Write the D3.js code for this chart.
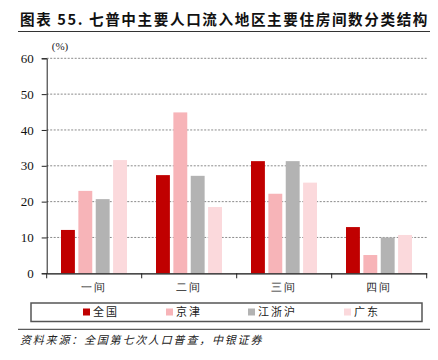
<!DOCTYPE html>
<html>
<head>
<meta charset="utf-8">
<script src="https://cdn.jsdelivr.net/npm/d3@7"></script>
<style>
  body { margin: 0; background: #fff; }
  svg { display: block; }
</style>
</head>
<body>
<div id="chart"></div>
<script>
// data
const categories = ["一间", "二间", "三间", "四间"];
const seriesNames = ["全国", "京津", "江浙沪", "广东"];
const quanguo = [12.1, 27.4, 31.3, 12.9];
const jingjin = [23.0, 44.9, 22.2, 5.1];
const jiangzhehu = [20.7, 27.2, 31.3, 10.0];
const guangdong = [31.6, 18.5, 25.3, 10.7];
const yTicks = [0, 10, 20, 30, 40, 50, 60];
const colors = ["#c00000", "#f7b4b8", "#b3b3b3", "#fbd9dc"];

const values = [quanguo, jingjin, jiangzhehu, guangdong];

const W = 438, H = 360;
const svg = d3.select("#chart").append("svg")
    .attr("width", W).attr("height", H)
    .style("font-family", "'Noto Sans CJK SC', sans-serif");

// title
svg.append("text")
    .attr("x", 20).attr("y", 25)
    .style("font-size", "14.6px").style("font-weight", "bold")
    .style("letter-spacing", "1.6px")
    .attr("fill", "#111")
    .text("图表 55. 七普中主要人口流入地区主要住房间数分类结构");
svg.append("line")
    .attr("x1", 18).attr("x2", 430).attr("y1", 31.5).attr("y2", 31.5)
    .attr("stroke", "#333").attr("stroke-width", 1.2);

const x = d3.scaleBand().domain(categories).range([46.7, 426.7]);
const xs = d3.scaleBand().domain(seriesNames).range([14.3, 80.3]).paddingInner(0.2);
const y = d3.scaleLinear().domain([0, 60]).range([273.3, 58.3]);

// gridlines
svg.append("g").selectAll("line")
    .data(yTicks.slice(1))
    .join("line")
    .attr("x1", 46.7).attr("x2", 426.7)
    .attr("y1", d => y(d)).attr("y2", d => y(d))
    .attr("stroke", "#8a8a8a").attr("stroke-width", 1)
    .attr("stroke-dasharray", "2,1.5");

// bars
const groups = svg.append("g").selectAll("g")
    .data(categories)
    .join("g")
    .attr("transform", d => `translate(${x(d)},0)`);

groups.selectAll("rect")
    .data((c, i) => seriesNames.map((s, j) => ({ s: s, v: values[j][i], j: j })))
    .join("rect")
    .attr("x", d => xs(d.s))
    .attr("width", xs.bandwidth())
    .attr("y", d => y(d.v))
    .attr("height", d => y(0) - y(d.v))
    .attr("fill", d => colors[d.j]);

// y axis
const yAxis = svg.append("g")
    .attr("transform", "translate(46.7,0)")
    .call(d3.axisLeft(y).tickValues(yTicks).tickSize(5).tickPadding(8));
yAxis.select(".domain").attr("stroke", "#222");
yAxis.selectAll(".tick line").attr("stroke", "#222");
yAxis.selectAll("text")
    .style("font-family", "'Liberation Serif', serif")
    .style("font-size", "13px").attr("fill", "#111");

svg.append("text")
    .attr("x", 60).attr("y", 50)
    .attr("text-anchor", "middle")
    .style("font-family", "'Liberation Serif', serif")
    .style("font-size", "11px").attr("fill", "#222")
    .text("(%)");

// x axis
const xAxis = svg.append("g")
    .attr("transform", `translate(0,${y(0)})`)
    .call(d3.axisBottom(x).tickSize(0).tickPadding(10));
xAxis.select(".domain").attr("stroke", "#111").attr("stroke-width", 1.3);
xAxis.selectAll("text")
    .style("font-size", "11px").attr("fill", "#222")
    .style("letter-spacing", "2px");
// group separator ticks
svg.append("g").selectAll("line")
    .data(d3.range(categories.length + 1))
    .join("line")
    .attr("x1", i => 46.7 + i * x.step()).attr("x2", i => 46.7 + i * x.step())
    .attr("y1", y(0)).attr("y2", y(0) + 5)
    .attr("stroke", "#222");

// legend
svg.append("rect")
    .attr("x", 31).attr("y", 303).attr("width", 391).attr("height", 18.5)
    .attr("fill", "none").attr("stroke", "#555").attr("stroke-width", 1.5);
const legendX = [83, 166, 248, 344];
const leg = svg.append("g").selectAll("g")
    .data(seriesNames)
    .join("g")
    .attr("transform", (d, i) => `translate(${legendX[i]},312)`);
leg.append("rect")
    .attr("x", 0).attr("y", -3.5).attr("width", 7).attr("height", 7)
    .attr("fill", (d, i) => colors[i]);
leg.append("text")
    .attr("x", 10).attr("y", 4)
    .style("font-size", "11px").style("letter-spacing", "2px")
    .attr("fill", "#222")
    .text(d => d);

// footer
svg.append("line")
    .attr("x1", 18).attr("x2", 430).attr("y1", 329.3).attr("y2", 329.3)
    .attr("stroke", "#333").attr("stroke-width", 1);
svg.append("text")
    .attr("x", 20).attr("y", 344)
    .style("font-size", "11px").style("font-style", "italic")
    .style("letter-spacing", "1.8px")
    .attr("fill", "#222")
    .text("资料来源：全国第七次人口普查，中银证券");
</script>
</body>
</html>
